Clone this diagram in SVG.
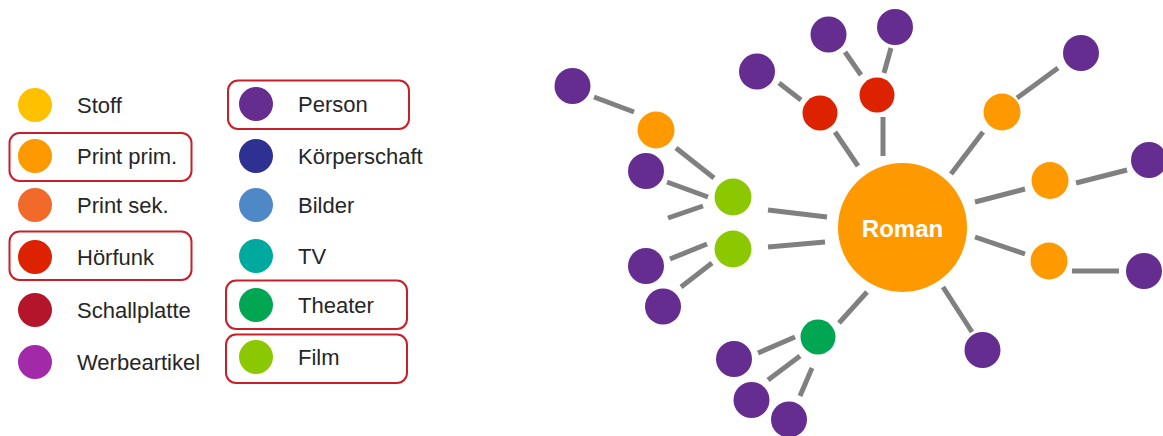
<svg xmlns="http://www.w3.org/2000/svg" width="1163" height="436" viewBox="0 0 1163 436">
<style>
.lt{font-family:"Liberation Sans",Arial,sans-serif;font-size:22px;fill:#262626}
.box{fill:none;stroke:#C8202A;stroke-width:2}
.e{stroke:#808080;stroke-width:5}
.pu{fill:#662D91}.or{fill:#FF9900}.rd{fill:#DD2200}.fi{fill:#8CC800}.th{fill:#00A651}
.rt{font-family:"Liberation Sans",Arial,sans-serif;font-size:24px;font-weight:bold;fill:#fff}
</style>
<rect width="1163" height="436" fill="#fff"/>
<g id="legend">
<rect class="box" x="9.5" y="133" width="182" height="48" rx="10"/>
<rect class="box" x="9.5" y="231.5" width="182" height="48.5" rx="10"/>
<rect class="box" x="228" y="80.5" width="181" height="48.5" rx="10"/>
<rect class="box" x="226" y="280.5" width="181" height="48.5" rx="10"/>
<rect class="box" x="226" y="334.5" width="181" height="48.5" rx="10"/>
<g id="leg-stoff"><circle cx="35" cy="105" r="17" fill="#FFC000"/><text class="lt" x="77" y="113">Stoff</text></g>
<g id="leg-printprim"><circle cx="35" cy="156" r="17" fill="#FF9900"/><text class="lt" x="77" y="164">Print prim.</text></g>
<g id="leg-printsek"><circle cx="35" cy="205" r="17" fill="#F26A2A"/><text class="lt" x="77" y="213">Print sek.</text></g>
<g id="leg-hoerfunk"><circle cx="35" cy="257" r="17" fill="#DD2200"/><text class="lt" x="77" y="265">Hörfunk</text></g>
<g id="leg-schallplatte"><circle cx="35" cy="310" r="17" fill="#B5152B"/><text class="lt" x="77" y="318">Schallplatte</text></g>
<g id="leg-werbeartikel"><circle cx="35" cy="362" r="17" fill="#A22AA8"/><text class="lt" x="77" y="370">Werbeartikel</text></g>
<g id="leg-person"><circle cx="256" cy="104" r="17" fill="#662D91"/><text class="lt" x="298" y="112">Person</text></g>
<g id="leg-koerperschaft"><circle cx="256" cy="156" r="17" fill="#2E3192"/><text class="lt" x="298" y="164">Körperschaft</text></g>
<g id="leg-bilder"><circle cx="256" cy="205" r="17" fill="#4F88C6"/><text class="lt" x="298" y="213">Bilder</text></g>
<g id="leg-tv"><circle cx="256" cy="256" r="17" fill="#00A99D"/><text class="lt" x="298" y="264">TV</text></g>
<g id="leg-theater"><circle cx="256" cy="305" r="17" fill="#00A651"/><text class="lt" x="298" y="313">Theater</text></g>
<g id="leg-film"><circle cx="256" cy="357" r="17" fill="#8CC800"/><text class="lt" x="298" y="365">Film</text></g>
</g>
<g id="connectors">
<line class="e" x1="594" y1="97" x2="634" y2="112"/>
<line class="e" x1="676" y1="148" x2="714" y2="178"/>
<line class="e" x1="667" y1="182" x2="708" y2="197"/>
<line class="e" x1="668" y1="218" x2="703" y2="206"/>
<line class="e" x1="768" y1="210" x2="827" y2="217"/>
<line class="e" x1="768" y1="247" x2="825" y2="242"/>
<line class="e" x1="670" y1="259" x2="707" y2="244"/>
<line class="e" x1="681" y1="287" x2="712" y2="263"/>
<line class="e" x1="779" y1="83" x2="801" y2="100"/>
<line class="e" x1="845" y1="52" x2="861" y2="75"/>
<line class="e" x1="891" y1="48" x2="884" y2="73"/>
<line class="e" x1="835" y1="132" x2="858" y2="166"/>
<line class="e" x1="883" y1="117" x2="883" y2="156"/>
<line class="e" x1="1017" y1="98" x2="1058" y2="68"/>
<line class="e" x1="951" y1="174" x2="983" y2="132"/>
<line class="e" x1="1076" y1="183" x2="1127" y2="170"/>
<line class="e" x1="975" y1="202" x2="1025" y2="189"/>
<line class="e" x1="975" y1="237" x2="1025" y2="254"/>
<line class="e" x1="1072" y1="271" x2="1119" y2="271"/>
<line class="e" x1="839" y1="323" x2="867" y2="292"/>
<line class="e" x1="943" y1="287" x2="972" y2="332"/>
<line class="e" x1="758" y1="353" x2="795" y2="337"/>
<line class="e" x1="768" y1="380" x2="800" y2="356"/>
<line class="e" x1="800" y1="396" x2="812" y2="368"/>
</g>
<g id="roman"><circle cx="902.5" cy="227.5" r="64.5" fill="#FF9900"/><text class="rt" x="902.5" y="237" text-anchor="middle">Roman</text></g>
<g id="o1"><circle class="or" cx="656" cy="130" r="18.5"/></g>
<g id="o2"><circle class="or" cx="1002" cy="112" r="18.5"/></g>
<g id="o3"><circle class="or" cx="1050" cy="180.5" r="18.5"/></g>
<g id="o4"><circle class="or" cx="1049" cy="261" r="18.5"/></g>
<g id="r1"><circle class="rd" cx="820" cy="113" r="17.5"/></g>
<g id="r2"><circle class="rd" cx="877" cy="95" r="17.5"/></g>
<g id="f1"><circle class="fi" cx="733" cy="197" r="18.5"/></g>
<g id="f2"><circle class="fi" cx="733" cy="249" r="18.5"/></g>
<g id="t1"><circle class="th" cx="818" cy="337" r="17.5"/></g>
<g id="p1"><circle class="pu" cx="572.5" cy="86" r="18"/></g>
<g id="p2"><circle class="pu" cx="828.5" cy="34.5" r="18"/></g>
<g id="p3"><circle class="pu" cx="895" cy="27" r="18"/></g>
<g id="p4"><circle class="pu" cx="757" cy="71.5" r="18"/></g>
<g id="p5"><circle class="pu" cx="1081" cy="53" r="18"/></g>
<g id="p6"><circle class="pu" cx="646" cy="171" r="18"/></g>
<g id="p7"><circle class="pu" cx="1149" cy="160" r="18"/></g>
<g id="p8"><circle class="pu" cx="1144" cy="271" r="18"/></g>
<g id="p9"><circle class="pu" cx="646" cy="266" r="18"/></g>
<g id="p10"><circle class="pu" cx="663" cy="306.5" r="18"/></g>
<g id="p11"><circle class="pu" cx="982.5" cy="350" r="18"/></g>
<g id="p12"><circle class="pu" cx="734" cy="359" r="18"/></g>
<g id="p13"><circle class="pu" cx="751.5" cy="400" r="18"/></g>
<g id="p14"><circle class="pu" cx="789" cy="419.5" r="18"/></g>
</svg>
